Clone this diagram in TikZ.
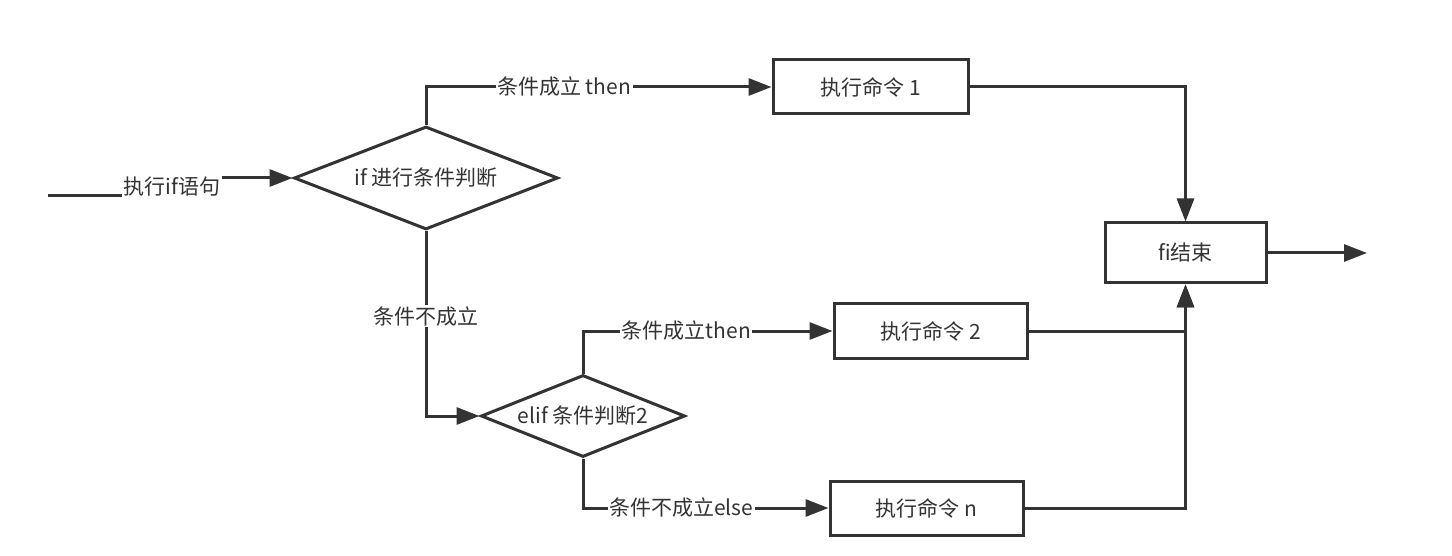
\documentclass[tikz,border=0pt]{standalone}
\usepackage{fontspec}
\setmainfont{Noto Sans CJK SC}
\usetikzlibrary{arrows.meta,shapes.geometric}
\definecolor{ink}{HTML}{333333}
\begin{document}
\begin{tikzpicture}[x=1pt,y=-1pt,
  txt/.style={text=ink,font=\fontsize{21}{24}\selectfont},
  box/.style={txt,draw=ink,line width=3pt,rectangle,minimum width=195pt,minimum height=54pt,inner sep=0pt},
  dia/.style={txt,draw=ink,line width=3pt,diamond,aspect=2.5,inner sep=0pt},
  lbl/.style={txt,fill=white,inner sep=1.5pt},
  flow/.style={draw=ink,line width=3pt,-{Triangle[length=23pt,width=17pt]}},
  plain/.style={draw=ink,line width=3pt}]
\useasboundingbox (0,0) rectangle (1452,556);
\fill[white] (0,0) rectangle (1452,556);
\node[dia,minimum width=264pt,minimum height=103pt] (d1) at (426,178) {if 进行条件判断};
\node[dia,minimum width=204pt,minimum height=82pt] (d2) at (583,416) {elif 条件判断2};
\node[box] (b1) at (870.5,87) {执行命令 1};
\node[box,minimum width=193pt] (b2) at (930.5,331) {执行命令 2};
\node[box,minimum width=193pt] (bn) at (926.5,508) {执行命令 n};
\node[box,minimum width=161pt,minimum height=60pt] (fi) at (1185.5,253) {fi结束};
\coordinate (s) at (48,196);
\coordinate (e) at (1367,253);
\draw[flow] (s) -- (172,196) -- node[lbl]{执行if语句} (172,178) -- (d1.west);
\draw[flow] (d1.north) |- node[lbl,pos=0.7]{条件成立 then} (b1.west);
\draw[flow] (b1.east) -| (fi.north);
\draw[flow] (d1.south) |- node[lbl,pos=0.23]{条件不成立} (d2.west);
\draw[flow] (d2.north) |- node[lbl,pos=0.707]{条件成立then} (b2.west);
\draw[flow] (d2.south) |- node[lbl,pos=0.70]{条件不成立else} (bn.west);
\draw[flow] (b2.east) -| (fi.south);
\draw[flow] (bn.east) -| (fi.south);
\draw[flow] (fi.east) -- (e);
\end{tikzpicture}
\end{document}
